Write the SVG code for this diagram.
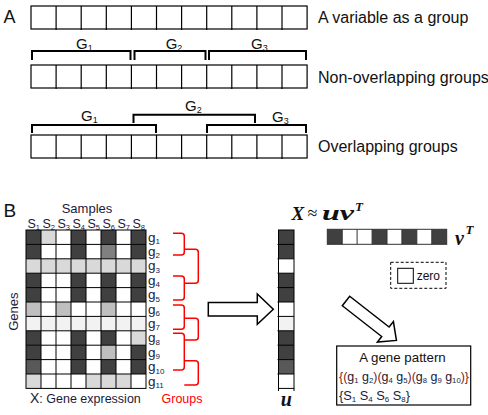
<svg xmlns="http://www.w3.org/2000/svg" width="488" height="415" viewBox="0 0 488 415">
<style>
text{font-family:"Liberation Sans",Arial,sans-serif;fill:#111}
.lbl{font-size:16px}
.big{font-size:18px}
.g{font-size:15px}
.sub{font-size:9px}
.ssub{font-size:8px}
.bl{font-size:13px;fill:#1a1a3a}
.gl{font-size:13.5px;fill:#1a1a3a}
.sl{font-size:12.5px;fill:#1a1a3a}
.sls{font-size:7.5px}
.math{font-family:"Liberation Serif","Times New Roman",serif;font-weight:bold;font-style:italic;fill:#111}
.cell{fill:none;stroke:#000;stroke-width:1.2}
.br{fill:none;stroke:#000;stroke-width:2}
.grid{fill:none;stroke:#000;stroke-width:1}
.red{fill:none;stroke:#f00;stroke-width:1.5}
.D{fill:#404040}.L{fill:#d9d9d9}.M{fill:#808080}.G{fill:#bfbfbf}.V{fill:#f2f2f2}.D2{fill:#595959}.W{fill:#fff}
.arrow{fill:#fff;stroke:#000;stroke-width:1.5;stroke-linejoin:miter}
.pr{fill:#7a1f1f}
</style>
<defs>
<g id="cells11">
<rect class="cell" x="31" y="0" width="276.1" height="23"/>
<path class="cell" d="M56.1,0v24M81.2,0v24M106.3,0v24M131.4,0v24M156.5,0v24M181.6,0v24M206.7,0v24M231.8,0v24M256.9,0v24M282,0v24"/>
</g>
</defs>

<g id="panelA">
<text class="big" x="3.5" y="22.5">A</text>
<g id="row-single">
<use href="#cells11" transform="translate(0,6)"/>
<text class="lbl" x="318" y="23">A variable as a group</text>
</g>
<g id="row-nonoverlap">
<use href="#cells11" transform="translate(0,65)"/>
<path class="br" d="M32,60V51H130.5V60"/>
<path class="br" d="M134.5,60V51H205.5V60"/>
<path class="br" d="M209,60V51H306V60"/>
<text class="g" x="76" y="49">G<tspan class="sub" dy="2">1</tspan></text>
<text class="g" x="165.7" y="49">G<tspan class="sub" dy="2">2</tspan></text>
<text class="g" x="251" y="49">G<tspan class="sub" dy="2">3</tspan></text>
<text class="lbl" x="318" y="83">Non-overlapping groups</text>
</g>
<g id="row-overlap">
<use href="#cells11" transform="translate(0,135)"/>
<path class="br" d="M32,133V125H156V133"/>
<path class="br" d="M133.5,123V114.7H255V123"/>
<path class="br" d="M207,133V125H306V133"/>
<text class="g" x="81" y="120.5">G<tspan class="sub" dy="2">1</tspan></text>
<text class="g" x="185" y="111">G<tspan class="sub" dy="2">2</tspan></text>
<text class="g" x="272" y="121.5">G<tspan class="sub" dy="2">3</tspan></text>
<text class="lbl" x="318" y="152">Overlapping groups</text>
</g>
</g>

<g id="panelB">
<text class="big" x="3.5" y="217" style="font-size:19px">B</text>
<g id="matrix">
<text class="bl" x="87" y="212.5" text-anchor="middle">Samples</text>
<g id="samples">
<text class="sl" x="27.5" y="227.5">S<tspan class="sls" dy="2">1</tspan></text>
<text class="sl" x="42.5" y="227.5">S<tspan class="sls" dy="2">2</tspan></text>
<text class="sl" x="57.5" y="227.5">S<tspan class="sls" dy="2">3</tspan></text>
<text class="sl" x="72.5" y="227.5">S<tspan class="sls" dy="2">4</tspan></text>
<text class="sl" x="87.5" y="227.5">S<tspan class="sls" dy="2">5</tspan></text>
<text class="sl" x="102.5" y="227.5">S<tspan class="sls" dy="2">6</tspan></text>
<text class="sl" x="117.5" y="227.5">S<tspan class="sls" dy="2">7</tspan></text>
<text class="sl" x="132.5" y="227.5">S<tspan class="sls" dy="2">8</tspan></text>
</g>
<rect class="W" x="26" y="230" width="120" height="158.4"/>
<!-- g1 -->
<rect class="D" x="26" y="230" width="15" height="14.4"/><rect class="L" x="41" y="230" width="15" height="14.4"/><rect class="D" x="71" y="230" width="15" height="14.4"/><rect class="D" x="101" y="230" width="15" height="14.4"/><rect class="D" x="131" y="230" width="15" height="14.4"/>
<!-- g2 -->
<rect class="D" x="26" y="244.4" width="15" height="14.4"/><rect class="D" x="71" y="244.4" width="15" height="14.4"/><rect class="M" x="101" y="244.4" width="15" height="14.4"/><rect class="D" x="131" y="244.4" width="15" height="14.4"/>
<!-- g3 -->
<rect class="L" x="26" y="258.8" width="120" height="14.4"/>
<!-- g4 -->
<rect class="D" x="26" y="273.2" width="15" height="14.4"/><rect class="D" x="71" y="273.2" width="15" height="14.4"/><rect class="D" x="101" y="273.2" width="15" height="14.4"/><rect class="D" x="131" y="273.2" width="15" height="14.4"/>
<!-- g5 -->
<rect class="D" x="26" y="287.6" width="15" height="14.4"/><rect class="D" x="71" y="287.6" width="15" height="14.4"/><rect class="D" x="101" y="287.6" width="15" height="14.4"/><rect class="D" x="131" y="287.6" width="15" height="14.4"/>
<!-- g6 -->
<rect class="G" x="26" y="302" width="15" height="14.4"/><rect class="G" x="56" y="302" width="15" height="14.4"/><rect class="G" x="101" y="302" width="15" height="14.4"/>
<!-- g7 -->
<rect class="V" x="26" y="316.4" width="120" height="14.4"/>
<!-- g8 -->
<rect class="D" x="26" y="330.8" width="15" height="14.4"/><rect class="D" x="71" y="330.8" width="15" height="14.4"/><rect class="D" x="101" y="330.8" width="15" height="14.4"/><rect class="L" x="131" y="330.8" width="15" height="14.4"/>
<!-- g9 -->
<rect class="D" x="26" y="345.2" width="15" height="14.4"/><rect class="D" x="71" y="345.2" width="15" height="14.4"/><rect class="G" x="101" y="345.2" width="15" height="14.4"/><rect class="D" x="131" y="345.2" width="15" height="14.4"/>
<!-- g10 -->
<rect class="D2" x="26" y="359.6" width="15" height="14.4"/><rect class="D" x="71" y="359.6" width="15" height="14.4"/><rect class="D" x="101" y="359.6" width="15" height="14.4"/><rect class="D" x="131" y="359.6" width="15" height="14.4"/>
<!-- g11 -->
<rect class="L" x="26" y="374" width="15" height="14.4"/><rect class="L" x="86" y="374" width="45" height="14.4"/>
<rect class="grid" x="26" y="230" width="120" height="158.4"/>
<path class="grid" d="M41,230V388.4M56,230V388.4M71,230V388.4M86,230V388.4M101,230V388.4M116,230V388.4M131,230V388.4M26,244.4H146M26,258.8H146M26,273.2H146M26,287.6H146M26,302H146M26,316.4H146M26,330.8H146M26,345.2H146M26,359.6H146M26,374H146"/>
<g id="genes">
<text class="gl" x="148" y="241.5">g<tspan class="ssub" dy="2.5">1</tspan></text>
<text class="gl" x="148" y="255.9">g<tspan class="ssub" dy="2.5">2</tspan></text>
<text class="gl" x="148" y="270.3">g<tspan class="ssub" dy="2.5">3</tspan></text>
<text class="gl" x="148" y="284.7">g<tspan class="ssub" dy="2.5">4</tspan></text>
<text class="gl" x="148" y="299.1">g<tspan class="ssub" dy="2.5">5</tspan></text>
<text class="gl" x="148" y="313.5">g<tspan class="ssub" dy="2.5">6</tspan></text>
<text class="gl" x="148" y="327.9">g<tspan class="ssub" dy="2.5">7</tspan></text>
<text class="gl" x="148" y="342.3">g<tspan class="ssub" dy="2.5">8</tspan></text>
<text class="gl" x="148" y="356.7">g<tspan class="ssub" dy="2.5">9</tspan></text>
<text class="gl" x="148" y="371.1">g<tspan class="ssub" dy="2.5">10</tspan></text>
<text class="gl" x="148" y="385.5">g<tspan class="ssub" dy="2.5">11</tspan></text>
</g>
<text class="bl" transform="translate(18,311.7) rotate(-90)" text-anchor="middle">Genes</text>
<text class="bl" style="font-size:12.5px" x="30" y="403"><tspan style="font-size:14px">X</tspan>: Gene expression</text>
</g>

<g id="groups">
<path class="red" d="M173,233.3H181.3Q184.3,233.3 184.3,236.3V252Q184.3,255 181.3,255H173"/>
<path class="red" d="M173,276H181.3Q184.3,276 184.3,279V297Q184.3,300 181.3,300H173"/>
<path class="red" d="M173,305H181.3Q184.3,305 184.3,308V326.3Q184.3,329.3 181.3,329.3H173"/>
<path class="red" d="M173,333.3H181.3Q184.3,333.3 184.3,336.3V367Q184.3,370 181.3,370H173"/>
<text x="161.5" y="403" style="font-size:12.5px;fill:#f00">Groups</text>
</g>

<g id="connectors">
<path class="red" d="M184.3,249.3H195.3Q198.3,249.3 198.3,252.3V280.3Q198.3,283.3 195.3,283.3H184.3"/>
<path class="red" d="M184.3,318.3H195.3Q198.3,318.3 198.3,321.3V337Q198.3,340 195.3,340H184.3"/>
<path class="red" d="M184.3,360.7H195.3Q198.3,360.7 198.3,363.7V382Q198.3,385 195.3,385H184.3"/>
<path class="arrow" d="M208.3,302.5H257.3V294L273.3,309.2L257.3,324.3V316H208.3Z"/>
<path class="arrow" transform="translate(346,301) rotate(38)" d="M0,-6H50V-13L64,0L50,13V6H0Z"/>
</g>

<g id="u-vector">
<rect class="D" x="278.5" y="230" width="15.5" height="28.8"/>
<rect class="W" x="278.5" y="258.8" width="15.5" height="14.4"/>
<rect class="D" x="278.5" y="273.2" width="15.5" height="28.8"/>
<rect class="W" x="278.5" y="302" width="15.5" height="14.4"/>
<rect class="V" x="278.5" y="316.4" width="15.5" height="14.4"/>
<rect class="D" x="278.5" y="330.8" width="15.5" height="28.8"/>
<rect class="D2" x="278.5" y="359.6" width="15.5" height="14.4"/>
<rect class="W" x="278.5" y="374" width="15.5" height="14.4"/>
<rect class="grid" x="278.5" y="230" width="15.5" height="158.4"/>
<path class="grid" d="M277.5,244.4H294M277.5,258.8H294M277.5,273.2H294M277.5,287.6H294M277.5,302H294M277.5,316.4H294M277.5,330.8H294M277.5,345.2H294M277.5,359.6H294M277.5,374H294M278.5,388.4V391M294,388.4V391"/>
<text class="math" x="286.3" y="406" text-anchor="middle" style="font-size:20px">u</text>
</g>

<g id="equation">
<text class="math" x="291.5" y="220" style="font-size:19px">X</text>
<text x="307.5" y="219" style="font-family:'Liberation Serif','Times New Roman',serif;font-size:18px;fill:#111">≈</text>
<text class="math" x="322" y="220" style="font-size:21px" textLength="32" lengthAdjust="spacingAndGlyphs">uv</text>
<text class="math" x="355" y="211" style="font-size:13px">T</text>
</g>

<g id="v-vector">
<rect class="W" x="327.3" y="229.3" width="119.4" height="15"/>
<rect class="D" x="327.3" y="229.3" width="14.925" height="15"/>
<rect class="D" x="372.1" y="229.3" width="14.925" height="15"/>
<rect class="D" x="401.9" y="229.3" width="14.925" height="15"/>
<rect class="D" x="431.8" y="229.3" width="14.925" height="15"/>
<rect class="grid" x="327.3" y="229.3" width="119.4" height="15" style="stroke:#333"/>
<path class="grid" style="stroke:#333" d="M342.2,229.3v15M357.1,229.3v15M372.1,229.3v15M387,229.3v15M401.9,229.3v15M416.8,229.3v15M431.8,229.3v15"/>
<text class="math" x="455" y="245" style="font-size:20px">v</text>
<text class="math" x="465.5" y="234" style="font-size:13px">T</text>
</g>

<g id="legend-zero">
<rect x="390.7" y="262.3" width="55.3" height="26" fill="none" stroke="#000" stroke-width="1" stroke-dasharray="3,2"/>
<rect x="397.7" y="268.3" width="15.6" height="15" fill="#fff" stroke="#000" stroke-width="1"/>
<text x="416.7" y="280" style="font-size:12px">zero</text>
</g>

<g id="gene-pattern">
<rect x="336.7" y="346" width="134" height="59" fill="#fff" stroke="#000" stroke-width="1.2"/>
<text x="402.5" y="362" text-anchor="middle" style="font-size:13.3px">A gene pattern</text>
<text class="bl" x="339" y="381" textLength="130" lengthAdjust="spacingAndGlyphs"><tspan class="pr">{(</tspan>g<tspan class="ssub" dy="2">1</tspan><tspan dy="-2"> g</tspan><tspan class="ssub" dy="2">2</tspan><tspan class="pr" dy="-2">)(</tspan>g<tspan class="ssub" dy="2">4</tspan><tspan dy="-2"> g</tspan><tspan class="ssub" dy="2">5</tspan><tspan class="pr" dy="-2">)(</tspan>g<tspan class="ssub" dy="2">8</tspan><tspan dy="-2"> g</tspan><tspan class="ssub" dy="2">9</tspan><tspan dy="-2"> g</tspan><tspan class="ssub" dy="2">10</tspan><tspan class="pr" dy="-2">)}</tspan></text>
<text class="bl" x="339" y="400" textLength="71" lengthAdjust="spacingAndGlyphs">{S<tspan class="ssub" dy="2">1</tspan><tspan dy="-2"> S</tspan><tspan class="ssub" dy="2">4</tspan><tspan dy="-2"> S</tspan><tspan class="ssub" dy="2">6</tspan><tspan dy="-2"> S</tspan><tspan class="ssub" dy="2">8</tspan><tspan dy="-2">}</tspan></text>
</g>
</g>
</svg>
